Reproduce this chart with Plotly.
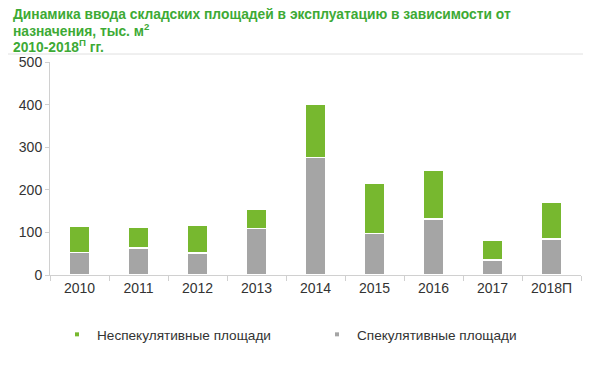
import plotly.graph_objects as go

years = ["2010", "2011", "2012", "2013", "2014", "2015", "2016", "2017", "2018П"]
speculative = [53, 63, 52, 109, 276, 98, 132, 35, 85]
non_speculative = [62, 50, 64, 46, 125, 118, 115, 47, 85]

green = "#77b82f"
gray = "#a5a5a5"
title_green = "#3daa35"
font_family = "Liberation Sans, Arial, sans-serif"

# The page body has an 8px margin, so the figure is drawn 8px smaller.
PLOT_H = 213.0  # plot area height in px
PLOT_W = 531.0

def py(pix_y):
    # picture y pixel -> paper y (plot top at 62, bottom at 275 in the picture)
    return (275 - pix_y) / PLOT_H

def px(pix_x):
    return (pix_x - 50) / PLOT_W

fig = go.Figure()
fig.add_trace(go.Bar(x=years, y=speculative, name="Спекулятивные площади",
                     marker=dict(color=gray, line=dict(color="white", width=1.5)),
                     showlegend=False))
fig.add_trace(go.Bar(x=years, y=non_speculative, name="Неспекулятивные площади",
                     marker=dict(color=green, line=dict(color="white", width=1.5)),
                     showlegend=False))
# legend entries
fig.add_trace(go.Scatter(x=[None], y=[None], mode="markers", name="Неспекулятивные площади",
                         marker=dict(color=green, symbol="square", size=4)))
fig.add_trace(go.Scatter(x=[None], y=[None], mode="markers", name="Спекулятивные площади",
                         marker=dict(color=gray, symbol="square", size=4)))

title_font = dict(family=font_family, size=13.8, color=title_green, weight="bold")

fig.update_layout(
    width=592, height=358,
    barmode="stack", bargap=0.64,
    plot_bgcolor="white", paper_bgcolor="white",
    margin=dict(l=42, r=19, t=54, b=91),
    font=dict(family=font_family, size=14, color="#333333"),
    showlegend=True,
    legend=dict(orientation="h", x=px(57), y=py(319), xanchor="left", yanchor="top",
                traceorder="normal",
                entrywidth=215, entrywidthmode="pixels",
                font=dict(size=13.6, color="#333333")),
    annotations=[
        dict(text="Динамика ввода складских площадей в эксплуатацию в зависимости от",
             xref="paper", yref="paper", x=px(11), y=py(14.5), xanchor="left", yanchor="middle",
             showarrow=False, align="left", font=title_font),
        dict(text="назначения, тыс. м<sup>2</sup>",
             xref="paper", yref="paper", x=px(11), y=py(30), xanchor="left", yanchor="middle",
             showarrow=False, align="left", font=title_font),
        dict(text="2010-2018<sup>П</sup> гг.",
             xref="paper", yref="paper", x=px(11), y=py(46.5), xanchor="left", yanchor="middle",
             showarrow=False, align="left", font=title_font),
    ],
    shapes=[dict(type="line", xref="paper", yref="paper", x0=px(8), x1=px(583),
                 y0=py(54), y1=py(54), line=dict(color="#e0e0e0", width=1))],
)
fig.update_xaxes(showgrid=False, showline=True, linecolor="#d0d0d0", linewidth=1,
                 ticks="outside", tickson="boundaries", ticklen=5, tickcolor="#d0d0d0",
                 tickfont=dict(size=14, color="#333333"))
fig.update_yaxes(range=[0, 500], dtick=100, showgrid=False, zeroline=False,
                 showline=True, linecolor="#d0d0d0", linewidth=1,
                 ticks="outside", ticklen=4, tickcolor="#d0d0d0",
                 tickfont=dict(size=14, color="#333333"))

fig.write_html("out.html")
